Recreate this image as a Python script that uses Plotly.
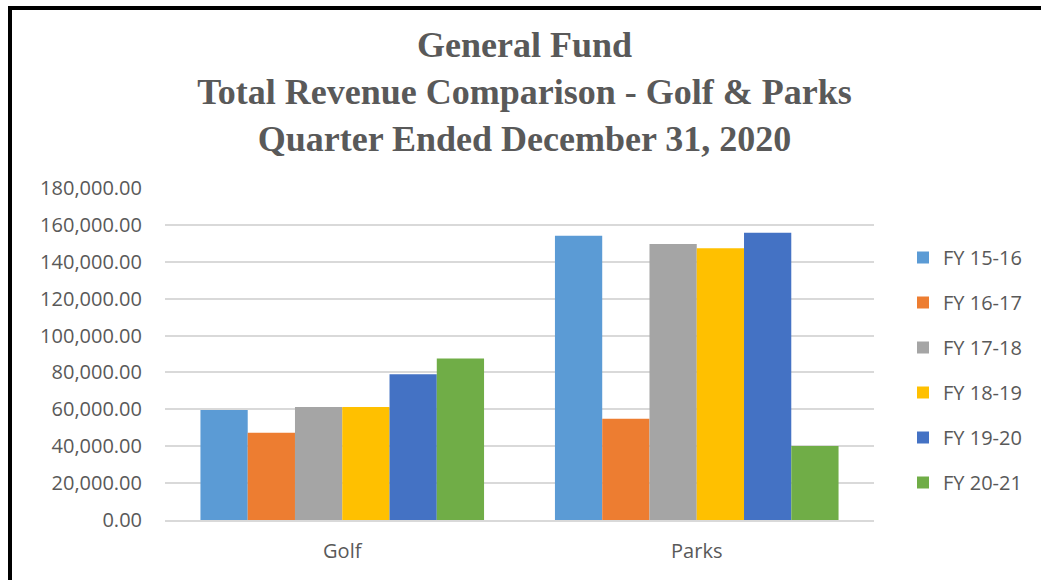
import plotly.graph_objects as go

categories = ["Golf", "Parks"]
series_names = ["FY 15-16", "FY 16-17", "FY 17-18", "FY 18-19", "FY 19-20", "FY 20-21"]
fy_15_16 = [59700, 154100]
fy_16_17 = [47300, 54900]
fy_17_18 = [61300, 149600]
fy_18_19 = [61300, 147300]
fy_19_20 = [79000, 155800]
fy_20_21 = [87500, 40100]
series_values = [fy_15_16, fy_16_17, fy_17_18, fy_18_19, fy_19_20, fy_20_21]
colors = ["#5B9BD5", "#ED7D31", "#A5A5A5", "#FFC000", "#4472C4", "#70AD47"]
y_ticks = [0, 20000, 40000, 60000, 80000, 100000, 120000, 140000, 160000, 180000]

W, H = 1041, 580
L, R, T, B = 165, W - 874, 188, 60
pw, ph = W - L - R, H - T - B

fig = go.Figure()
for name, vals, c in zip(series_names, series_values, colors):
    fig.add_trace(go.Bar(x=categories, y=vals, name=name, marker_color=c,
                         marker_line_width=0, legendgroup=name))

grey = "#595959"
fig.update_layout(
    width=W, height=H,
    margin=dict(l=L, r=R, t=T, b=B),
    paper_bgcolor="white", plot_bgcolor="white",
    barmode="group", bargap=0.2, bargroupgap=0,
    title=dict(
        text="General Fund<br>Total Revenue Comparison - Golf & Parks<br>Quarter Ended December 31, 2020",
        font=dict(family="Liberation Serif", size=36, color=grey, weight="bold"),
        x=0.507, xanchor="center", xref="paper",
        y=1 - 57 / H, yanchor="middle", yref="container",
    ),
    font=dict(family="Open Sans", color=grey, size=20),
    legend=dict(
        x=(903 - L) / pw, xanchor="left",
        y=(H - B - 238) / ph, yanchor="top",
        font=dict(size=20, color=grey),
        tracegroupgap=16, itemwidth=30,
        bgcolor="rgba(0,0,0,0)",
    ),
    showlegend=True,
)
fig.update_yaxes(
    range=[0, 180000], tickvals=y_ticks, tickformat=",.2f",
    showgrid=True, gridcolor="#D9D9D9", gridwidth=1.5,
    zeroline=False, showline=False, ticks="",
    ticklabelstandoff=22,
    tickfont=dict(size=20, color=grey, family="Open Sans"),
)
fig.update_xaxes(
    showline=True, linecolor="#D9D9D9", linewidth=1.5,
    ticks="", ticklabelstandoff=12,
    tickfont=dict(size=20, color=grey, family="Open Sans"),
)

# outer chart border (left and top edges visible)
fig.add_shape(type="line", xref="paper", yref="paper",
              x0=(10 - L) / pw, x1=(10 - L) / pw,
              y0=(H - B - 8) / ph, y1=(H - B - 600) / ph,
              line=dict(color="black", width=4))
fig.add_shape(type="line", xref="paper", yref="paper",
              x0=(8 - L) / pw, x1=(1100 - L) / pw,
              y0=(H - B - 8) / ph, y1=(H - B - 8) / ph,
              line=dict(color="black", width=4))

fig.write_html("out.html")
